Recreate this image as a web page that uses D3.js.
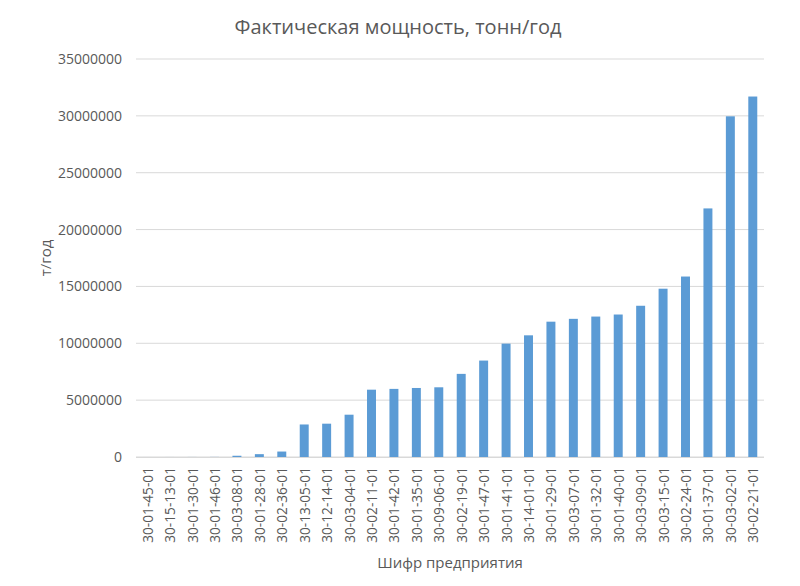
<!DOCTYPE html>
<html><head><meta charset="utf-8">
<script src="https://cdn.jsdelivr.net/npm/d3@7"></script>
<style>body{margin:0;background:#fff}</style>
</head><body>
<svg id="chart" width="800" height="586"></svg>
<script>
const categories = ["30-01-45-01","30-15-13-01","30-01-30-01","30-01-46-01","30-03-08-01","30-01-28-01","30-02-36-01","30-13-05-01","30-12-14-01","30-03-04-01","30-02-11-01","30-01-42-01","30-01-35-01","30-09-06-01","30-02-19-01","30-01-47-01","30-01-41-01","30-14-01-01","30-01-29-01","30-03-07-01","30-01-32-01","30-01-40-01","30-03-09-01","30-03-15-01","30-02-24-01","30-01-37-01","30-03-02-01","30-02-21-01"];
const values = [1000,2000,4000,8000,110000,250000,480000,2860000,2930000,3720000,5920000,5990000,6070000,6130000,7310000,8480000,9970000,10700000,11900000,12150000,12350000,12530000,13300000,14800000,15870000,21860000,29960000,31700000];
const yTicks = [0,5000000,10000000,15000000,20000000,25000000,30000000,35000000];
const title = "Фактическая мощность, тонн/год";
const xTitle = "Шифр предприятия";
const yTitle = "т/год";

const svg = d3.select("#chart");
const m = {left:136, right:36, top:59, bottom:129};
const W = 800, H = 586;
const x = d3.scaleBand().domain(categories).range([m.left, W - m.right]).paddingInner(0.6).paddingOuter(0.3);
const y = d3.scaleLinear().domain([0, 35000000]).range([H - m.bottom, m.top]);
const font = "'Open Sans', 'Segoe UI', sans-serif";
const grey = "#595959";

svg.append("g").selectAll("line").data(yTicks).join("line")
  .attr("x1", m.left).attr("x2", W - m.right)
  .attr("y1", d => y(d)).attr("y2", d => y(d))
  .attr("stroke", "#d9d9d9").attr("stroke-width", 1);

svg.append("g").selectAll("rect").data(values).join("rect")
  .attr("x", (d,i) => x(categories[i]))
  .attr("width", x.bandwidth())
  .attr("y", d => y(d))
  .attr("height", d => y(0) - y(d))
  .attr("fill", "#5b9bd5");

const ya = svg.append("g").attr("transform", `translate(${m.left},0)`)
  .call(d3.axisLeft(y).tickValues(yTicks).tickFormat(d3.format("d")).tickSize(0).tickPadding(14));
ya.select(".domain").remove();
ya.selectAll("text").attr("font-family", font).attr("font-size", "14px").attr("fill", grey);

const xa = svg.append("g").attr("transform", `translate(0,${y(0)})`)
  .call(d3.axisBottom(x).tickSize(0).tickPadding(10));
xa.select(".domain").attr("stroke", "#d9d9d9").attr("d", `M${m.left},0.5H${W - m.right}`);
xa.selectAll("text")
  .attr("font-family", font).attr("font-size", "13.7px").attr("fill", grey)
  .attr("transform", "rotate(-90)")
  .attr("text-anchor", "end")
  .attr("dx", "-10px").attr("dy", "0").attr("y", 0).attr("x", 0)
  .style("dominant-baseline", "central");

svg.append("text").attr("x", 398).attr("y", 34).attr("text-anchor", "middle")
  .attr("font-family", font).attr("font-size", "20px").attr("fill", grey).text(title);
svg.append("text").attr("x", (m.left + W - m.right)/2).attr("y", 568).attr("text-anchor", "middle")
  .attr("font-family", font).attr("font-size", "15px").attr("fill", grey).text(xTitle);
svg.append("text").attr("transform", `translate(51,${(m.top + H - m.bottom)/2}) rotate(-90)`)
  .attr("text-anchor", "middle")
  .attr("font-family", font).attr("font-size", "15px").attr("fill", grey).text(yTitle);
</script>
</body></html>
